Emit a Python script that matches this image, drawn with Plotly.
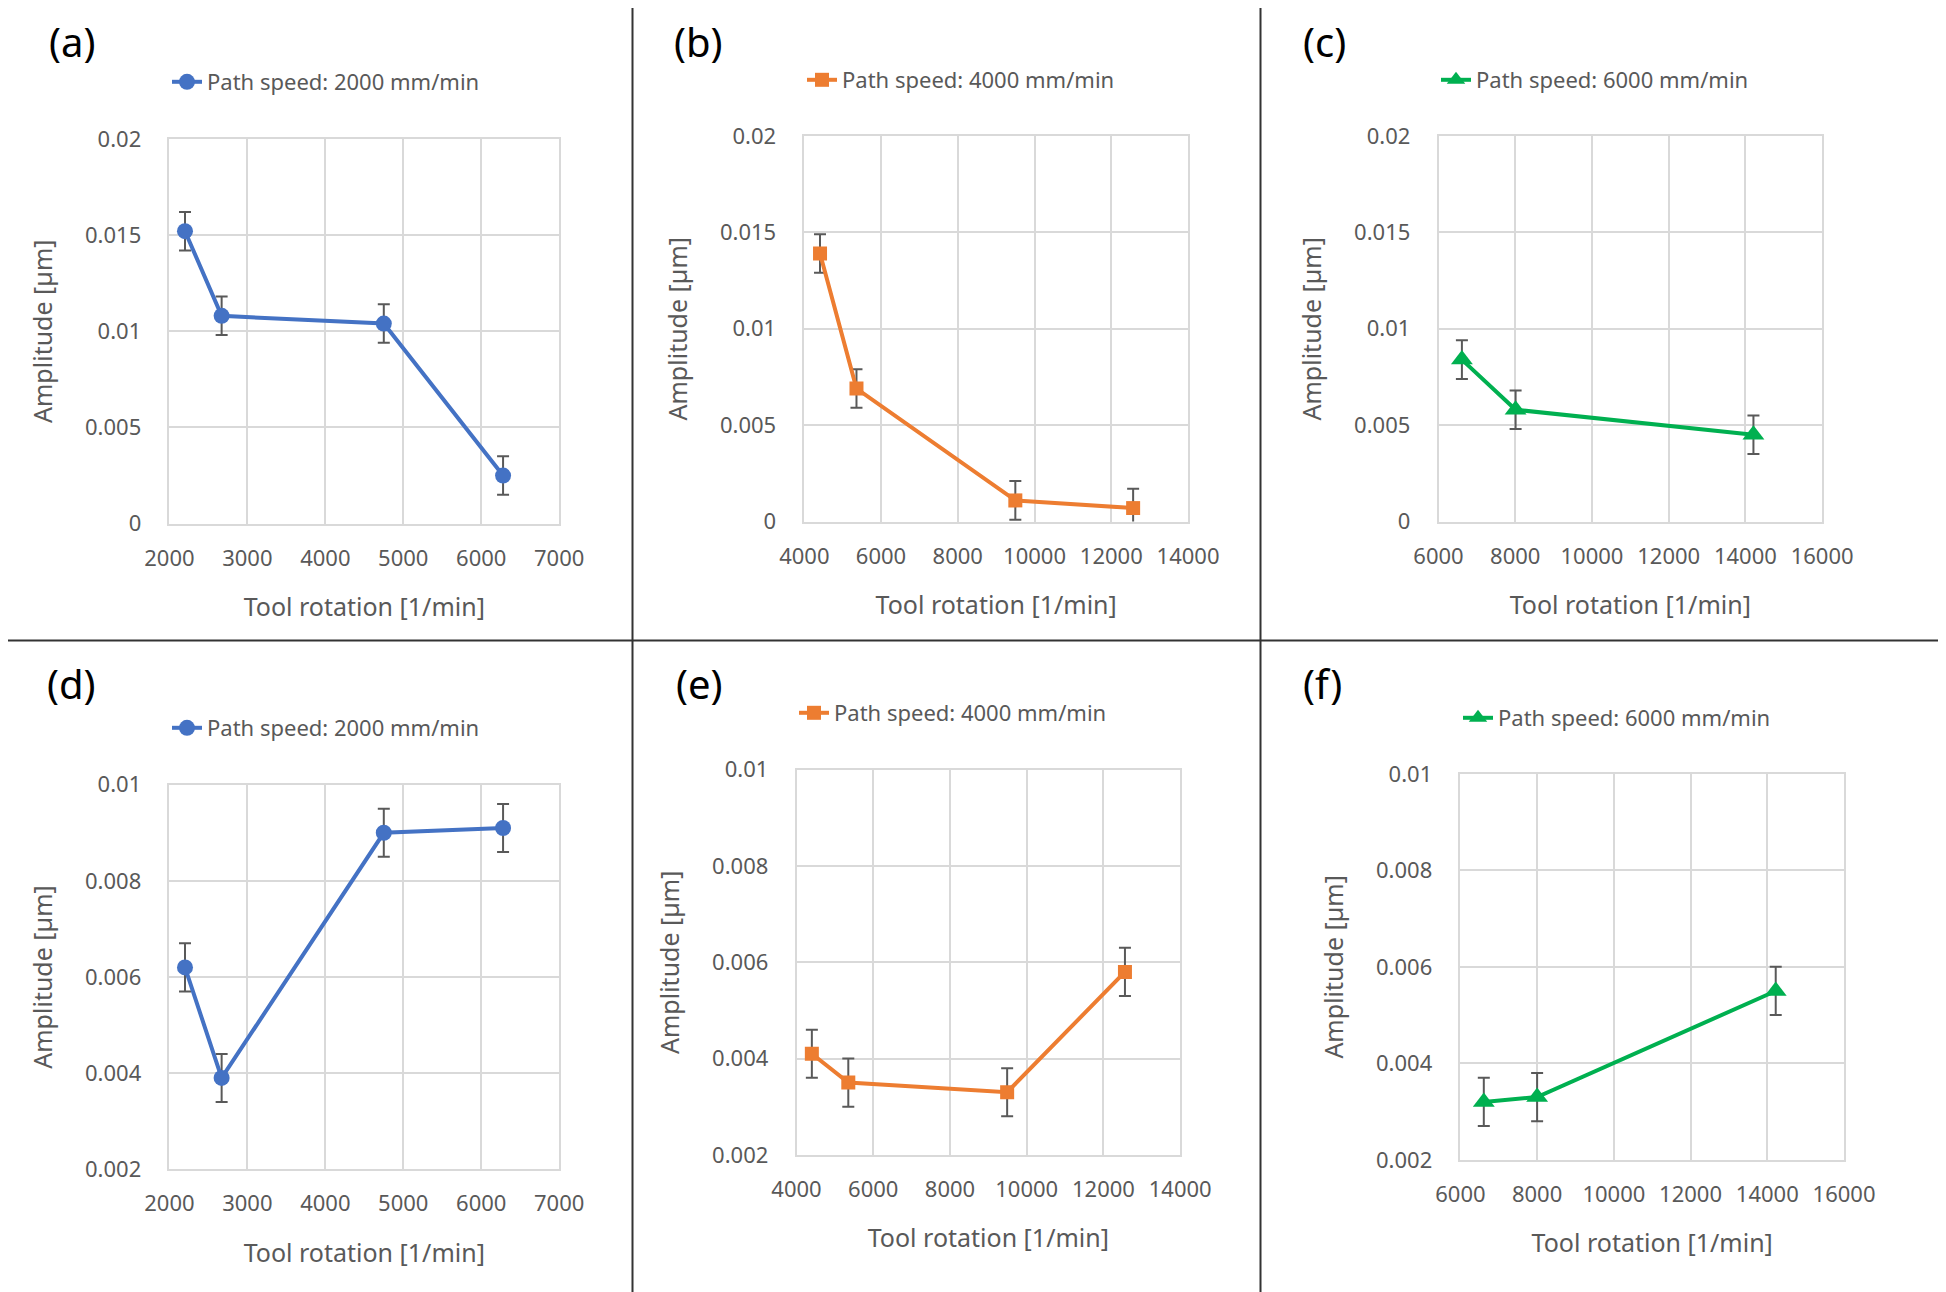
import plotly.graph_objects as go

# ---------------- data ----------------
rot_a = [2200, 2670, 4750, 6280]
amp_a = [0.0152, 0.0108, 0.0104, 0.0025]
err_a = [0.001, 0.001, 0.001, 0.001]

rot_b = [4410, 5360, 9500, 12570]
amp_b = [0.0139, 0.0069, 0.0011, 0.0007]
err_b = [0.001, 0.001, 0.001, 0.001]

rot_c = [6610, 8010, 14210]
amp_c = [0.0084, 0.0058, 0.0045]
err_c = [0.001, 0.001, 0.001]

rot_d = [2200, 2670, 4750, 6280]
amp_d = [0.0062, 0.0039, 0.0090, 0.0091]
err_d = [0.0005, 0.0005, 0.0005, 0.0005]

rot_e = [4400, 5350, 9490, 12560]
amp_e = [0.0041, 0.0035, 0.0033, 0.0058]
err_e = [0.0005, 0.0005, 0.0005, 0.0005]

rot_f = [6610, 8000, 14220]
amp_f = [0.0032, 0.0033, 0.0055]
err_f = [0.0005, 0.0005, 0.0005]

series_names = ["Path speed: 2000 mm/min", "Path speed: 4000 mm/min", "Path speed: 6000 mm/min"]
panel_labels = ["(a)", "(b)", "(c)", "(d)", "(e)", "(f)"]
x_title = "Tool rotation [1/min]"
y_title = "Amplitude [µm]"

# ---------------- layout helpers ----------------
# the page body has an 8px margin, so the figure is made 8px smaller
# and all target pixel positions are shifted by that offset
OFF = 8
W, H = 1946 - OFF, 1292 - OFF
FONT = "Noto Sans"
GRAY = "#595959"
GRID = "#d9d9d9"

BLUE, ORANGE, GREEN = "#4472C4", "#ED7D31", "#00B050"


def px(xp):
    return (xp - OFF) / W


def py(yp):
    return 1 - (yp - OFF) / H


panels = [
    dict(x=rot_a, y=amp_a, e=err_a, c=BLUE, s="circle", ms=16, n=series_names[0],
         box=(169.4, 559.2, 138.8, 523.7), xr=[2000, 7000], xd=1000, yr=[0, 0.02], yd=0.005,
         leg=(209, 82), lab=(72, 42)),
    dict(x=rot_b, y=amp_b, e=err_b, c=ORANGE, s="square", ms=14, n=series_names[1],
         box=(804.3, 1188.0, 135.9, 521.6), xr=[4000, 14000], xd=2000, yr=[0, 0.02], yd=0.005,
         leg=(844, 80), lab=(698, 42)),
    dict(x=rot_c, y=amp_c, e=err_c, c=GREEN, s="triangle-up", ms=19, n=series_names[2],
         box=(1438.5, 1822.1, 135.9, 521.6), xr=[6000, 16000], xd=2000, yr=[0, 0.02], yd=0.005,
         leg=(1478, 80), lab=(1324, 42)),
    dict(x=rot_d, y=amp_d, e=err_d, c=BLUE, s="circle", ms=16, n=series_names[0],
         box=(169.4, 559.2, 784.7, 1169.3), xr=[2000, 7000], xd=1000, yr=[0.002, 0.01], yd=0.002,
         leg=(209, 728), lab=(72, 683)),
    dict(x=rot_e, y=amp_e, e=err_e, c=ORANGE, s="square", ms=14, n=series_names[1],
         box=(796.5, 1180.2, 769.7, 1154.8), xr=[4000, 14000], xd=2000, yr=[0.002, 0.01], yd=0.002,
         leg=(836, 713), lab=(699, 683)),
    dict(x=rot_f, y=amp_f, e=err_f, c=GREEN, s="triangle-up", ms=19, n=series_names[2],
         box=(1460.4, 1844.0, 773.9, 1159.8), xr=[6000, 16000], xd=2000, yr=[0.002, 0.01], yd=0.002,
         leg=(1500, 718), lab=(1322, 683)),
]

fig = go.Figure()
layout = dict(
    width=W, height=H,
    margin=dict(l=0, r=0, t=0, b=0, autoexpand=False),
    paper_bgcolor="white", plot_bgcolor="white",
    font=dict(family=FONT, color=GRAY, size=22),
    showlegend=True,
)
annotations = []

for i, p in enumerate(panels, start=1):
    sfx = "" if i == 1 else str(i)
    leg_key = "legend" if i == 1 else f"legend{i}"
    fig.add_trace(go.Scatter(
        x=p["x"], y=p["y"], name=p["n"], mode="lines+markers",
        line=dict(color=p["c"], width=4),
        marker=dict(color=p["c"], symbol=p["s"], size=p["ms"]),
        error_y=dict(type="data", array=p["e"], visible=True, color="#595959", thickness=2, width=6),
        xaxis="x" + sfx, yaxis="y" + sfx, legend=leg_key,
    ))
    x0, x1, y0, y1 = p["box"]
    layout["xaxis" + sfx] = dict(
        domain=[px(x0), px(x1)], anchor="y" + sfx, range=p["xr"], dtick=p["xd"], tick0=0,
        tickformat="d", showgrid=True, gridcolor=GRID, gridwidth=1.5, automargin=False,
        showline=True, linecolor=GRID, linewidth=1.5, mirror=True, zeroline=False,
        ticks="", ticklabelstandoff=14, tickfont=dict(size=22, color=GRAY, family=FONT),
        title=dict(text=x_title, standoff=28, font=dict(size=25, color=GRAY, family=FONT)),
    )
    layout["yaxis" + sfx] = dict(
        domain=[py(y1), py(y0)], anchor="x" + sfx, range=p["yr"], dtick=p["yd"], tick0=0,
        showgrid=True, gridcolor=GRID, gridwidth=1.5, automargin=False,
        showline=True, linecolor=GRID, linewidth=1.5, mirror=True, zeroline=False,
        ticks="", ticklabelstandoff=22, tickfont=dict(size=22, color=GRAY, family=FONT),
        title=dict(text=y_title, standoff=25, font=dict(size=25, color=GRAY, family=FONT)),
    )
    lx, ly = p["leg"]
    layout[leg_key] = dict(
        x=px(lx - 42), y=py(ly), xanchor="left", yanchor="middle",
        orientation="h", bgcolor="rgba(0,0,0,0)",
        font=dict(size=22, color=GRAY, family=FONT),
    )
    ax_, ay_ = p["lab"]
    annotations.append(dict(
        text=panel_labels[i - 1], x=px(ax_), y=py(ay_), xref="paper", yref="paper",
        showarrow=False, xanchor="center", yanchor="middle",
        font=dict(size=40, color="black", family=FONT),
    ))

layout["annotations"] = annotations
layout["shapes"] = [
    dict(type="line", xref="paper", yref="paper", x0=px(632.5), x1=px(632.5), y0=0, y1=1,
         line=dict(color="#333333", width=2)),
    dict(type="line", xref="paper", yref="paper", x0=px(1260.5), x1=px(1260.5), y0=0, y1=1,
         line=dict(color="#333333", width=2)),
    dict(type="line", xref="paper", yref="paper", x0=0, x1=1, y0=py(640.5), y1=py(640.5),
         line=dict(color="#333333", width=2)),
]
fig.update_layout(**layout)
fig.write_html("out.html")
